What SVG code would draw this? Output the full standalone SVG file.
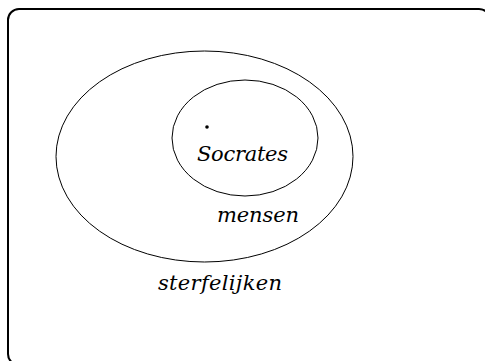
<svg xmlns="http://www.w3.org/2000/svg" width="485" height="361" viewBox="0 0 485 361">
<style>
.frame{fill:none;stroke:#000;stroke-width:2}
.set{fill:none;stroke:#000;stroke-width:1}
.lbl{font-family:"DejaVu Serif",serif;font-style:italic;font-size:21px;fill:#000}
</style>
<rect width="485" height="361" fill="#fff"/>
<rect class="frame" x="8" y="9" width="482" height="356" rx="11" ry="11"/>
<g id="sterfelijken">
<ellipse class="set" cx="204.5" cy="156.5" rx="148.5" ry="105.5"/>
<text class="lbl" x="158" y="290" textLength="124" lengthAdjust="spacing">sterfelijken</text>
</g>
<g id="mensen">
<ellipse class="set" cx="245" cy="138" rx="73" ry="58"/>
<text class="lbl" x="217" y="222" textLength="82" lengthAdjust="spacing">mensen</text>
</g>
<g id="socrates">
<circle cx="207" cy="127" r="1.8" fill="#000"/>
<text class="lbl" x="197" y="160.5" textLength="91" lengthAdjust="spacing">Socrates</text>
</g>
<g id="connectors"/>
</svg>
